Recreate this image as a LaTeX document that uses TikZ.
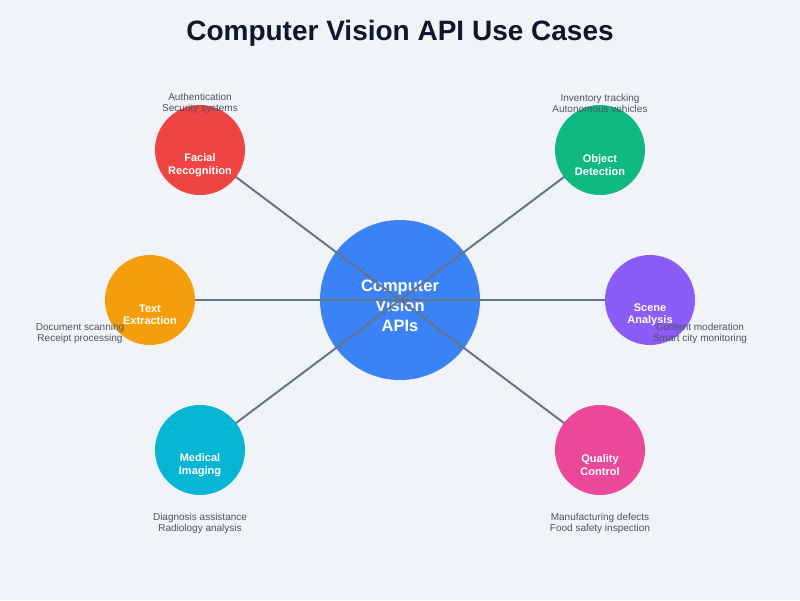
\documentclass[tikz,border=0pt]{standalone}
\usepackage{fontspec}
\setmainfont{Liberation Sans}
\definecolor{bg}{HTML}{F0F4F8}
\definecolor{titlec}{HTML}{0F172A}
\definecolor{linec}{HTML}{64748B}
\definecolor{descc}{HTML}{4B5563}
\definecolor{cblue}{HTML}{3B82F6}
\definecolor{cred}{HTML}{EF4444}
\definecolor{cgreen}{HTML}{10B981}
\definecolor{corange}{HTML}{F59E0B}
\definecolor{cpurple}{HTML}{8B5CF6}
\definecolor{ccyan}{HTML}{06B6D4}
\definecolor{cpink}{HTML}{EC4899}
\begin{document}
\begin{tikzpicture}[x=1pt,y=-1pt,
  hub/.style={circle,fill=cblue,minimum size=160pt,inner sep=0pt},
  sat/.style={circle,minimum size=90pt,inner sep=0pt},
  conn/.style={draw=linec,line width=2pt},
  lbl/.style={text=white,font=\fontsize{11}{12.5}\selectfont\bfseries,align=center},
  hublbl/.style={text=white,font=\fontsize{16.5}{20}\selectfont\bfseries,align=center},
  desc/.style={text=descc,font=\fontsize{10}{11}\selectfont,align=center}]
\fill[bg] (0,0) rectangle (800,600);
\useasboundingbox (0,0) rectangle (800,600);
\node[text=titlec,font=\fontsize{28}{32}\selectfont\bfseries] (title) at (400,33) {Computer Vision API Use Cases};
\node[hub] (hub) at (400,300) {};
\node[hublbl] (hubtext) at (400,305.5) {Computer\\Vision\\APIs};
\coordinate (cfr) at (200,150);
\coordinate (cod) at (600,150);
\coordinate (cte) at (150,300);
\coordinate (csa) at (650,300);
\coordinate (cmi) at (200,450);
\coordinate (cqc) at (600,450);
\foreach \c in {cfr,cod,cte,csa,cmi,cqc} \draw[conn] (hub.center) -- (\c);
\node[sat,fill=cred] (fr) at (cfr) {};
\node[sat,fill=cgreen] (od) at (cod) {};
\node[sat,fill=corange] (te) at (cte) {};
\node[sat,fill=cpurple] (sa) at (csa) {};
\node[sat,fill=ccyan] (mi) at (cmi) {};
\node[sat,fill=cpink] (qc) at (cqc) {};
\node[lbl] (frl) at (200,165) {Facial\\Recognition};
\node[lbl] (odl) at (600,165) {Object\\Detection};
\node[lbl] (tel) at (150,315) {Text\\Extraction};
\node[lbl] (sal) at (650,315) {Scene\\Analysis};
\node[lbl] (mil) at (200,465) {Medical\\Imaging};
\node[lbl] (qcl) at (600,465) {Quality\\Control};
\node[desc] (frd) at (200,103) {Authentication\\Security systems};
\node[desc] (odd) at (600,103) {Inventory tracking\\Autonomous vehicles};
\node[desc] (ted) at (80,333) {Document scanning\\Receipt processing};
\node[desc] (sad) at (700,333) {Content moderation\\Smart city monitoring};
\node[desc] (mid) at (200,523) {Diagnosis assistance\\Radiology analysis};
\node[desc] (qcd) at (600,523) {Manufacturing defects\\Food safety inspection};
\end{tikzpicture}
\end{document}
